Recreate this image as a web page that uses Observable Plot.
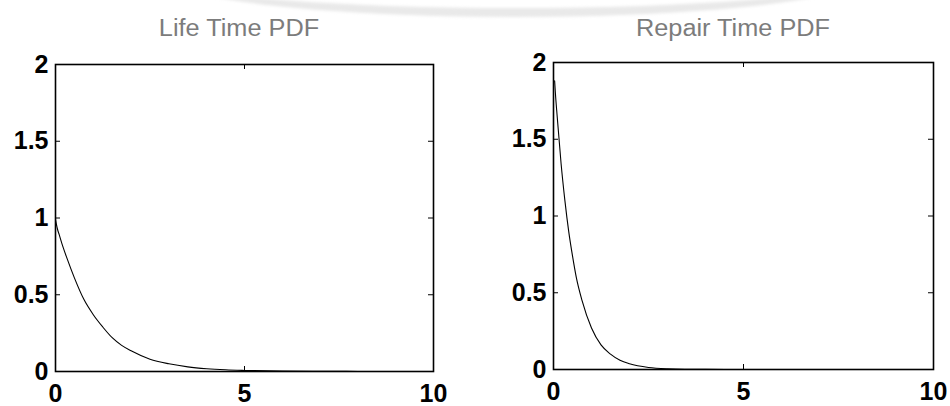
<!DOCTYPE html>
<html>
<head>
<meta charset="utf-8">
<script src="https://cdn.jsdelivr.net/npm/d3@7"></script>
<script src="https://cdn.jsdelivr.net/npm/@observablehq/plot@0.6"></script>
<style>
  html, body { margin: 0; padding: 0; background: #fff; }
  #wrap { position: relative; width: 950px; height: 406px; overflow: hidden; background: #fff; }
  .panel { position: absolute; top: 0; }
  .title { position: absolute; top: 15px; font-family: "Liberation Sans", Arial, sans-serif;
           font-size: 23px; color: #7c7c7c; white-space: nowrap; transform: translateX(-50%) scaleX(1.1); }
  #arc { position: absolute; left: 170px; top: -62px; width: 690px; height: 70px; z-index: 2;
         border-radius: 50%; border-bottom: 9px solid #e9e9e9; filter: blur(1.5px); pointer-events: none; }
</style>
</head>
<body>
<div id="wrap">
  <div id="arc"></div>
</div>
<script>
// Exponential life-time density samples
const lifeX = [0, 0.05, 0.1, 0.2, 0.3, 0.5, 0.75, 1, 1.25, 1.5, 1.75, 2, 2.5, 3, 3.5, 4, 4.5, 5, 6, 7, 8, 9, 10];
const lifeY = [0.99, 0.93, 0.89, 0.81, 0.74, 0.61, 0.47, 0.37, 0.29, 0.22, 0.17, 0.135, 0.08, 0.05, 0.03, 0.018, 0.011, 0.007, 0.0025, 0.001, 0.0004, 0.0001, 0];

// Exponential repair-time density samples
const repairX = [0.03, 0.05, 0.1, 0.2, 0.3, 0.4, 0.5, 0.6, 0.75, 1, 1.25, 1.5, 1.75, 2, 2.5, 3, 4, 5, 6, 7, 8, 9, 10];
const repairY = [1.88, 1.8, 1.64, 1.34, 1.1, 0.9, 0.74, 0.6, 0.45, 0.27, 0.16, 0.1, 0.06, 0.037, 0.013, 0.005, 0.0007, 0.0001, 0, 0, 0, 0, 0];

// Axis ticks
const xTicks = [0, 5, 10];
const yTicks = [0, 0.5, 1, 1.5, 2];

const titles = ["Life Time PDF", "Repair Time PDF"];

function panel(xs, ys, m, W, H) {
  const data = xs.map((x, i) => ({x, y: ys[i]}));
  const pw = W - m.left - m.right;
  const ph = H - m.top - m.bottom;
  return Plot.plot({
    width: W, height: H,
    marginLeft: m.left, marginRight: m.right, marginTop: m.top, marginBottom: m.bottom,
    x: {domain: [0, 10]},
    y: {domain: [0, 2]},
    style: {fontFamily: "'Liberation Sans', Arial, sans-serif", fontSize: "25px", fontWeight: "bold", color: "black", background: "transparent"},
    marks: [
      Plot.axisX({ticks: xTicks, tickSize: 0, tickPadding: 13, tickFormat: d => String(d), label: null}),
      Plot.axisY({ticks: yTicks, tickSize: 0, tickPadding: 7, tickFormat: d => String(d), label: null}),
      // inward tick marks on all four sides
      Plot.tickX(xTicks, {x: d => d, insetTop: ph - 5, stroke: "black", strokeWidth: 1}),
      Plot.tickX(xTicks, {x: d => d, insetBottom: ph - 5, stroke: "black", strokeWidth: 1}),
      Plot.tickY(yTicks, {y: d => d, insetRight: pw - 5, stroke: "black", strokeWidth: 1}),
      Plot.tickY(yTicks, {y: d => d, insetLeft: pw - 5, stroke: "black", strokeWidth: 1}),
      Plot.line(data, {x: "x", y: "y", stroke: "black", strokeWidth: 1.1, curve: "monotone-x"}),
      Plot.frame({stroke: "black", strokeWidth: 1.6})
    ]
  });
}

const wrap = document.getElementById("wrap");
const W = 475, H = 406;
const specs = [
  {xs: lifeX, ys: lifeY, m: {left: 55, right: 42, top: 64, bottom: 35}, offset: 0},
  {xs: repairX, ys: repairY, m: {left: 78, right: 17, top: 62, bottom: 37}, offset: 475}
];
specs.forEach((s, i) => {
  const svg = panel(s.xs, s.ys, s.m, W, H);
  svg.classList.add("panel");
  svg.style.left = s.offset + "px";
  wrap.appendChild(svg);
  const t = document.createElement("div");
  t.className = "title";
  t.textContent = titles[i];
  t.style.left = (s.offset + (i === 0 ? 239 : 258)) + "px";
  wrap.appendChild(t);
});
</script>
</body>
</html>
